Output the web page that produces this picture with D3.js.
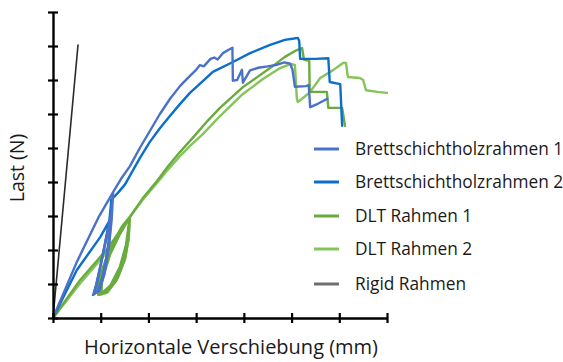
<!DOCTYPE html>
<html>
<head>
<meta charset="utf-8">
<script src="https://cdn.jsdelivr.net/npm/d3@7"></script>
<style>
  html, body { margin: 0; padding: 0; background: #fff; }
  svg { display: block; }
  text { font-family: "Open Sans", "Noto Sans", sans-serif; fill: #1a1a1a; }
</style>
</head>
<body>
<svg id="chart" width="563" height="362"></svg>
<script>
// Load–displacement curves (axis units: tick intervals)
const seriesNames = ["Brettschichtholzrahmen 1", "Brettschichtholzrahmen 2", "DLT Rahmen 1", "DLT Rahmen 2", "Rigid Rahmen"];
const seriesColors = ["#4a72c9", "#0b6fc9", "#6aab3f", "#84c45a", "#2a2a2a"];

const xTicks = [0, 1, 2, 3, 4, 5, 6, 7];
const yTicks = [0, 1, 2, 3, 4, 5, 6, 7, 8, 9];

const bsh1 = [
  [0, 0], [0.5, 1.65], [0.95, 2.95], [1.26, 3.70],
  [1.24, 3.2], [1.15, 2.6], [1.05, 1.9], [0.95, 1.2], [0.86, 0.72], [0.84, 0.68],
  [0.93, 0.78], [1.03, 1.15], [1.12, 1.8], [1.20, 2.6], [1.26, 3.62],
  [1.22, 3.0], [1.13, 2.4], [1.02, 1.7], [0.92, 1.05], [0.85, 0.70],
  [0.97, 0.80], [1.08, 1.3], [1.18, 2.2], [1.23, 2.9], [1.26, 3.70],
  [1.42, 4.08], [1.61, 4.46], [1.82, 5.0], [2.03, 5.50], [2.24, 6.0], [2.45, 6.44], [2.66, 6.82], [2.87, 7.12],
  [3.0, 7.30], [3.08, 7.44], [3.16, 7.40], [3.30, 7.62], [3.38, 7.66], [3.45, 7.60], [3.56, 7.79],
  [3.71, 7.91], [3.76, 7.95],
  [3.77, 6.98], [3.86, 7.0], [3.96, 7.30], [3.98, 6.92], [4.13, 7.28], [4.3, 7.36], [4.5, 7.40],
  [4.7, 7.45], [4.85, 7.52], [4.97, 7.48], [5.02, 7.30], [5.07, 6.80], [5.30, 6.82], [5.36, 6.85],
  [5.39, 6.20], [5.55, 6.30], [5.75, 6.45]
];

const bsh2 = [
  [0, 0], [0.5, 1.41], [0.99, 2.38], [1.2, 2.9], [1.22, 3.47],
  [1.20, 3.0], [1.12, 2.4], [1.02, 1.7], [0.93, 1.1], [0.86, 0.72], [0.84, 0.68],
  [0.95, 0.80], [1.06, 1.3], [1.16, 2.1], [1.21, 2.8], [1.22, 3.4],
  [1.18, 2.85], [1.09, 2.2], [0.99, 1.5], [0.90, 0.95], [0.85, 0.70],
  [0.98, 0.85], [1.10, 1.5], [1.19, 2.4], [1.22, 3.47],
  [1.36, 3.68], [1.51, 3.93], [1.61, 4.18], [1.82, 4.70], [2.03, 5.18], [2.24, 5.58], [2.45, 5.94], [2.66, 6.29], [2.87, 6.62], [3.14, 6.97],
  [3.35, 7.24], [3.77, 7.53], [4.13, 7.79], [4.55, 8.03], [4.86, 8.18], [5.05, 8.22], [5.13, 8.24],
  [5.16, 8.15], [5.18, 7.62], [5.50, 7.62], [5.77, 7.64], [5.80, 6.94], [6.02, 6.88], [6.06, 5.65]
];

const dlt1 = [
  [0, 0], [0.57, 1.12], [1.13, 2.02], [1.61, 2.97],
  [1.58, 2.3], [1.50, 1.7], [1.33, 1.1], [1.12, 0.74], [0.95, 0.68],
  [0.93, 0.90], [1.05, 1.5], [1.25, 2.2], [1.45, 2.70], [1.61, 2.97],
  [1.56, 2.25], [1.45, 1.62], [1.26, 1.05], [1.06, 0.72], [0.96, 0.70],
  [0.99, 1.0], [1.13, 1.70], [1.34, 2.32], [1.61, 2.97],
  [1.53, 2.15], [1.40, 1.5], [1.20, 0.95], [1.0, 0.70],
  [1.03, 1.12], [1.20, 1.88], [1.42, 2.52], [1.61, 2.97],
  [1.88, 3.52], [2.18, 4.03], [2.42, 4.48], [2.66, 4.88], [2.98, 5.38], [3.24, 5.80], [3.5, 6.18], [3.98, 6.79], [4.55, 7.35], [4.86, 7.68],
  [5.11, 7.88], [5.22, 7.94], [5.26, 7.60], [5.37, 7.56], [5.38, 6.65], [5.74, 6.65], [5.77, 6.18],
  [6.06, 6.18], [6.12, 5.65]
];

const dlt2 = [
  [0, 0], [0.6, 1.07], [1.15, 1.97], [1.61, 2.97],
  [1.59, 2.38], [1.52, 1.78], [1.36, 1.18], [1.15, 0.76], [0.97, 0.68],
  [0.95, 0.95], [1.08, 1.58], [1.28, 2.26], [1.48, 2.74], [1.61, 2.97],
  [1.55, 2.2], [1.43, 1.56], [1.23, 1.0], [1.03, 0.70],
  [1.01, 1.06], [1.16, 1.78], [1.38, 2.42], [1.61, 2.97],
  [1.88, 3.48], [2.18, 3.97], [2.42, 4.38], [2.66, 4.76], [2.90, 5.10], [3.14, 5.41], [3.5, 5.94], [3.98, 6.59], [4.4, 7.03], [4.76, 7.35],
  [4.97, 7.47], [5.07, 7.44], [5.11, 6.47], [5.13, 6.35], [5.24, 6.47], [5.39, 6.65], [5.6, 7.06],
  [5.87, 7.29], [6.08, 7.50], [6.14, 7.50], [6.18, 7.09], [6.43, 7.06], [6.50, 7.0], [6.56, 6.70],
  [6.80, 6.65], [7.0, 6.62]
];

const rigid = [[0, 0], [0.524, 8.03]];

const seriesData = [bsh1, bsh2, dlt1, dlt2, rigid];
const seriesWidths = [2.4, 2.4, 2.4, 2.4, 1.6];

const svg = d3.select("#chart");

const x = d3.scaleLinear().domain([0, 7]).range([53, 387]);
const y = d3.scaleLinear().domain([0, 9]).range([318, 12]);

// Curves
const line = d3.line().x(d => x(d[0])).y(d => y(d[1])).curve(d3.curveLinear);
// green below blue, rigid line on top
const drawOrder = [3, 2, 1, 0, 4];
drawOrder.forEach(i => {
  svg.append("path")
    .datum(seriesData[i])
    .attr("d", line)
    .attr("fill", "none")
    .attr("stroke", seriesColors[i])
    .attr("stroke-width", seriesWidths[i])
    .attr("stroke-linejoin", "round")
    .attr("stroke-linecap", "round");
});

// Axes with crossing ticks and no labels
const xAxis = svg.append("g")
  .attr("transform", `translate(0,${y(0)})`)
  .call(d3.axisBottom(x).tickValues(xTicks).tickSizeInner(5).tickSizeOuter(0).tickFormat(""));
xAxis.selectAll(".tick line").attr("y1", -5);

const yAxis = svg.append("g")
  .attr("transform", `translate(${x(0)},0)`)
  .call(d3.axisLeft(y).tickValues(yTicks).tickSizeInner(5).tickSizeOuter(0).tickFormat(""));
yAxis.selectAll(".tick line").attr("x1", 5);

[xAxis, yAxis].forEach(g => {
  g.select(".domain").attr("stroke", "#000").attr("stroke-width", 2.4);
  g.selectAll(".tick line").attr("stroke", "#000").attr("stroke-width", 2.2);
});

// Axis titles
svg.append("text")
  .attr("x", 231).attr("y", 354)
  .attr("text-anchor", "middle")
  .style("font-size", "20px")
  .text("Horizontale Verschiebung (mm)");

svg.append("text")
  .attr("transform", "translate(24,168) rotate(-90)")
  .attr("text-anchor", "middle")
  .style("font-size", "19.5px")
  .text("Last (N)");

// Legend
const legendRows = [149, 182, 216, 249, 284];
const legend = svg.append("g");
seriesNames.forEach((name, i) => {
  const ry = legendRows[i];
  legend.append("line")
    .attr("x1", 314).attr("x2", 339)
    .attr("y1", ry).attr("y2", ry)
    .attr("stroke", i === 4 ? "#6e6e6e" : seriesColors[i])
    .attr("stroke-width", 3);
  legend.append("text")
    .attr("x", 355).attr("y", ry)
    .attr("dy", "0.35em")
    .style("font-size", "17.3px")
    .text(name);
});
</script>
</body>
</html>
